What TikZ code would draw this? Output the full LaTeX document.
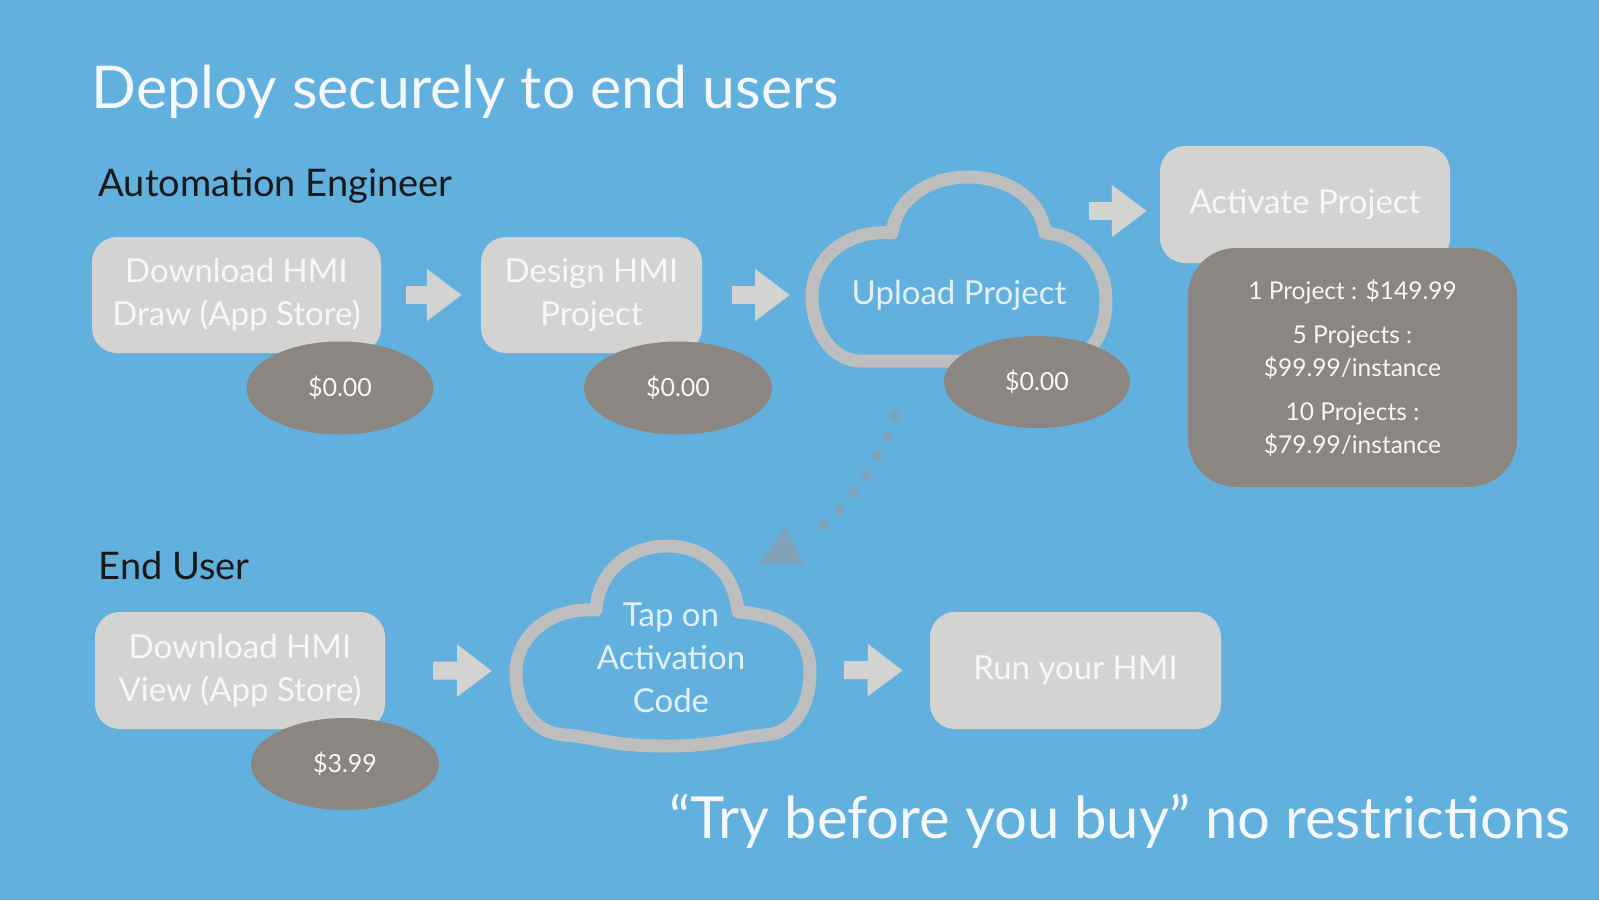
\documentclass[tikz,border=0pt]{standalone}
\usepackage{fontspec}
\setmainfont{Lato}
\usetikzlibrary{shapes.geometric,calc,arrows.meta}
\definecolor{bg}{HTML}{62B0DE}
\definecolor{boxgray}{HTML}{D3D3D1}
\definecolor{darkg}{HTML}{8C8682}
\definecolor{cloudgray}{HTML}{BEBEBE}
\definecolor{dotc}{HTML}{7FA2B8}
\definecolor{txtw}{HTML}{F7F7F7}
\definecolor{txtb}{HTML}{E2F0F9}
\definecolor{titlec}{HTML}{F4F8FB}
\begin{document}
\begin{tikzpicture}[x=1pt,y=-1pt,
  box/.style={fill=boxgray, rounded corners=25pt, inner sep=0pt, text=txtw, align=center, font=\fontsize{33}{43}\selectfont},
  priceell/.style={fill=darkg, ellipse, inner sep=0pt, text=txtw, font=\fontsize{25}{28}\selectfont},
  blockarrow/.style={draw=boxgray, line width=18pt, -{Triangle[length=35pt,width=50pt]}},
  cloudline/.style={draw=cloudgray, line width=13pt, fill=bg, line join=round},
  cloudtext/.style={text=txtb, align=center, font=\fontsize{33}{43}\selectfont},
  heading/.style={anchor=base west, text=black!90, font=\fontsize{38}{42}\selectfont},
  dotline/.style={draw=dotc, line width=10pt, line cap=round, dash pattern=on 0pt off 22pt}
]
\useasboundingbox (0,0) rectangle (1599,900);
\fill[bg] (0,0) rectangle (1599,900);

% titles
\node[anchor=base west, text=titlec, font=\fontsize{59}{64}\selectfont] (title) at (88,108) {Deploy securely to end users};
\node[heading] (ae) at (95,196) {Automation Engineer};
\node[heading] (eu) at (95,579) {End User};

% top row boxes
\node[box, minimum width=289pt, minimum height=116pt] (b1) at (236.5,295) {Download HMI\\Draw (App Store)};
\node[box, minimum width=221pt, minimum height=116pt] (b2) at (591.5,295) {Design HMI\\Project};
\node[box, minimum width=290pt, minimum height=117pt] (act) at (1305,204.5) {Activate Project};

% cloud 1
\draw[cloudline] (860,361) -- (1060,361)
  .. controls (1092,361) and (1106,332) .. (1106,300)
  .. controls (1106,265) and (1082,236) .. (1045,233)
  .. controls (1041,199) and (1008,177) .. (968,177)
  .. controls (928,177) and (896,200) .. (892,233)
  .. controls (845,229) and (812,260) .. (812,296)
  .. controls (812,333) and (834,361) .. (860,361) -- cycle;
\coordinate (c1w) at (806,295);
\node[cloudtext] (c1) at (959,295) {Upload Project};

% bottom row
\node[box, minimum width=290pt, minimum height=117pt] (b4) at (240,670.5) {Download HMI\\View (App Store)};
\node[box, minimum width=291pt, minimum height=117pt] (b5) at (1075.5,670.5) {Run your HMI};

% cloud 2
\draw[cloudline] (565,735)
  .. controls (600,738) and (610,746) .. (665,746)
  .. controls (720,746) and (730,738) .. (765,735)
  .. controls (795,733) and (810,705) .. (810,672)
  .. controls (810,638) and (790,615) .. (738,612)
  .. controls (735,572) and (705,546) .. (667,546)
  .. controls (629,546) and (598,572) .. (596,610)
  .. controls (548,607) and (516,638) .. (516,672)
  .. controls (516,710) and (535,733) .. (565,735) -- cycle;
\coordinate (c2w) at (512,671);
\coordinate (c2e) at (816,670);
\node[cloudtext] (c2) at (671,658) {Tap on\\Activation\\Code};

% price ellipses
\node[priceell, minimum width=187pt, minimum height=93pt] (e1) at (340,388) {\$0.00};
\node[priceell, minimum width=188pt, minimum height=93pt] (e2) at (678,388) {\$0.00};
\node[priceell, minimum width=186pt, minimum height=92pt] (e3) at (1037,382) {\$0.00};
\node[priceell, minimum width=188pt, minimum height=92pt] (e4) at (345,764) {\$3.99};

% price box
\node[fill=darkg, rounded corners=48pt, minimum width=329pt, minimum height=239pt, inner sep=0pt,
  text=txtw, align=center, font=\fontsize{24.5}{33}\selectfont] (pb) at (1352.5,367.5)
  {1 Project : \$149.99\\[11pt]5 Projects :\\\$99.99/instance\\[11pt]10 Projects :\\\$79.99/instance};

% block arrows
\draw[blockarrow] ($(b1.east)+(25,0)$) -- ($(b2.west)+(-19,0)$);
\draw[blockarrow] ($(b2.east)+(30,0)$) -- ($(c1w)+(-16,0)$);
\coordinate (a3s) at (1089,211);
\draw[blockarrow] (a3s) -- ($(act.west |- a3s)+(-13,0)$);
\draw[blockarrow] ($(b4.east)+(48,0)$) -- ($(c2w)+(-20,0)$);
\draw[blockarrow] ($(c2e)+(28,0)$) -- ($(b5.west)+(-27,0)$);

% dotted connector
\coordinate (ds) at (895,416);
\coordinate (de) at (812,534);
\draw[dotline] (ds) .. controls (880,460) and (850,507) .. (de);
\fill[dotc] (785,527) -- (804,564) -- (759,564) -- cycle;

% bottom text
\node[anchor=base west, text=titlec, font=\fontsize{58}{62}\selectfont] (try) at (666,838) {“Try before you buy” no restrictions};
\end{tikzpicture}
\end{document}
